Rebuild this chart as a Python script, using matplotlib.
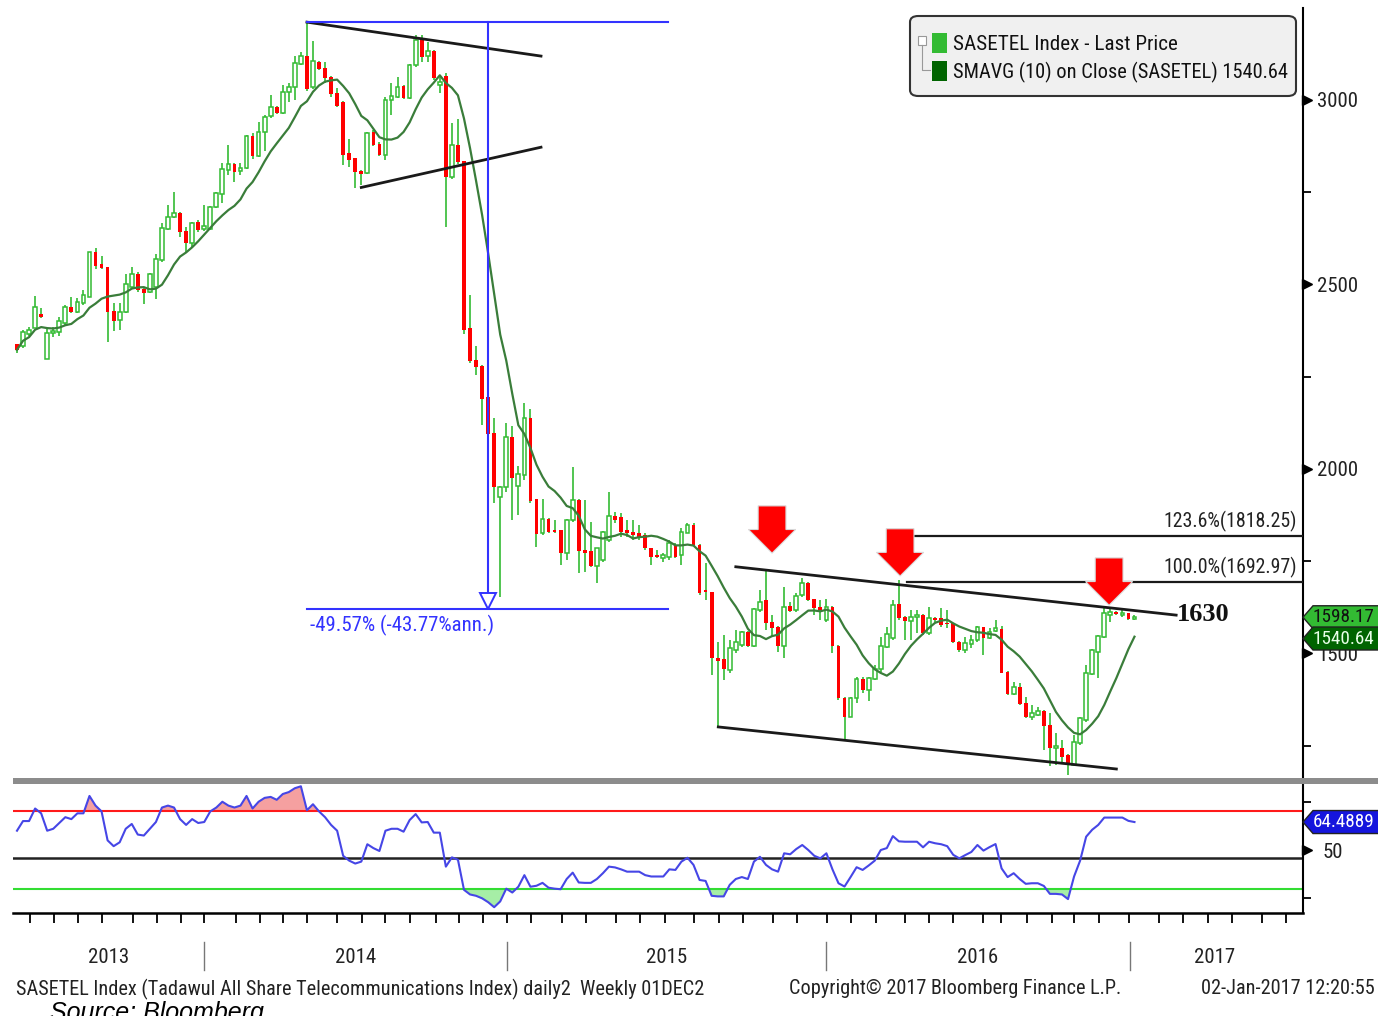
import os
import numpy as np
import pandas as pd
import matplotlib
matplotlib.use('Agg')
from matplotlib import pyplot as plt
from matplotlib import font_manager as fm
from matplotlib.patches import Polygon, FancyBboxPatch, Rectangle
from matplotlib.lines import Line2D

# weekly bars of SASETEL (bar 0 = first visible week)
opn = [2338, 2332, 2365, 2383, 2420, 2297, 2368, 2372, 2397, 2438,
       2426, 2449, 2467, 2587, 2555, 2548, 2429, 2404, 2426, 2494,
       2528, 2487, 2479, 2494, 2566, 2650, 2682, 2693, 2646, 2612,
       2670, 2650, 2650, 2709, 2744, 2810, 2827, 2808, 2815, 2903,
       2848, 2912, 2957, 2980, 2964, 3021, 3034, 3098, 3119, 3035,
       3104, 3086, 3063, 3018, 2995, 2855, 2842, 2808, 2801, 2912,
       2880, 2851, 3000, 3009, 3038, 3005, 3095, 3164, 3119, 3134,
       3040, 3066, 2791, 2879, 2835, 2381, 2295, 2279, 2194, 2098,
       1924, 1952, 2087, 1955, 1983, 2139, 1919, 1827, 1864, 1835,
       1835, 1773, 1862, 1916, 1780, 1779, 1737, 1753, 1808, 1873,
       1871, 1835, 1830, 1826, 1821, 1785, 1765, 1758, 1762, 1795,
       1767, 1827, 1848, 1794, 1670, 1666, 1489, 1484, 1455, 1510,
       1523, 1559, 1520, 1618, 1645, 1586, 1573, 1519, 1629, 1618,
       1659, 1692, 1647, 1627, 1591, 1627, 1519, 1379, 1329, 1379,
       1430, 1401, 1430, 1457, 1517, 1541, 1634, 1600, 1589, 1598,
       1604, 1555, 1597, 1595, 1582, 1582, 1532, 1509, 1526, 1537,
       1571, 1541, 1562, 1566, 1451, 1390, 1408, 1365, 1329, 1333,
       1345, 1306, 1244, 1243, 1225, 1198, 1257, 1320, 1444, 1505,
       1544, 1605, 1613, 1604, 1609, 1594]
high = [2340, 2377, 2386, 2469, 2435, 2382, 2386, 2413, 2444, 2467,
        2463, 2485, 2587, 2598, 2577, 2548, 2449, 2449, 2528, 2548,
        2535, 2494, 2530, 2582, 2666, 2715, 2750, 2697, 2657, 2670,
        2675, 2715, 2713, 2752, 2830, 2878, 2830, 2828, 2905, 2911,
        2941, 2959, 3014, 2984, 3041, 3045, 3119, 3131, 3212, 3160,
        3106, 3104, 3065, 3032, 2997, 2893, 2844, 2810, 2914, 2919,
        2887, 3009, 3045, 3061, 3041, 3098, 3176, 3176, 3158, 3136,
        3066, 3072, 2939, 2949, 2836, 2471, 2332, 2281, 2196, 2137,
        1955, 2125, 2116, 2007, 2179, 2163, 1920, 1920, 1866, 1862,
        1836, 1864, 2006, 1918, 1916, 1857, 1787, 1832, 1939, 1884,
        1880, 1862, 1862, 1848, 1826, 1787, 1781, 1771, 1808, 1799,
        1839, 1853, 1853, 1796, 1744, 1668, 1532, 1550, 1537, 1564,
        1561, 1561, 1622, 1672, 1726, 1604, 1575, 1681, 1640, 1663,
        1704, 1694, 1649, 1645, 1649, 1629, 1523, 1381, 1383, 1437,
        1437, 1437, 1469, 1545, 1573, 1645, 1699, 1602, 1618, 1618,
        1606, 1627, 1600, 1622, 1618, 1584, 1534, 1546, 1550, 1575,
        1573, 1568, 1591, 1575, 1453, 1424, 1421, 1383, 1360, 1354,
        1347, 1338, 1284, 1266, 1227, 1279, 1329, 1469, 1511, 1549,
        1627, 1622, 1615, 1622, 1611, 1605]
low = [2313, 2329, 2360, 2381, 2408, 2297, 2359, 2360, 2390, 2422,
       2422, 2445, 2467, 2541, 2541, 2345, 2375, 2377, 2422, 2490,
       2481, 2447, 2476, 2460, 2562, 2648, 2679, 2628, 2589, 2598,
       2643, 2645, 2648, 2706, 2720, 2797, 2779, 2797, 2812, 2839,
       2846, 2863, 2950, 2961, 2961, 2995, 3000, 3095, 3025, 3030,
       3081, 3045, 3009, 2980, 2824, 2819, 2761, 2770, 2799, 2874,
       2848, 2837, 2959, 3005, 3003, 3002, 3090, 3104, 3104, 3054,
       3020, 2656, 2786, 2827, 2367, 2288, 2256, 2118, 2090, 1907,
       1654, 1938, 1862, 1875, 1971, 1908, 1789, 1821, 1826, 1826,
       1740, 1753, 1857, 1717, 1722, 1735, 1690, 1749, 1803, 1853,
       1817, 1817, 1808, 1808, 1780, 1740, 1758, 1749, 1753, 1758,
       1740, 1826, 1790, 1658, 1645, 1442, 1297, 1428, 1446, 1501,
       1518, 1517, 1518, 1613, 1564, 1546, 1505, 1487, 1613, 1613,
       1654, 1643, 1604, 1591, 1586, 1501, 1374, 1265, 1327, 1365,
       1392, 1370, 1428, 1451, 1514, 1537, 1590, 1537, 1537, 1555,
       1550, 1550, 1586, 1573, 1568, 1529, 1505, 1500, 1514, 1532,
       1496, 1538, 1559, 1446, 1388, 1388, 1360, 1324, 1320, 1331,
       1238, 1195, 1198, 1202, 1171, 1196, 1252, 1315, 1442, 1433,
       1541, 1586, 1605, 1600, 1591, 1592]
close = [2323, 2372, 2377, 2438, 2413, 2368, 2374, 2401, 2440, 2426,
         2452, 2471, 2587, 2550, 2546, 2426, 2402, 2426, 2500, 2528,
         2485, 2478, 2528, 2568, 2654, 2682, 2693, 2641, 2612, 2668,
         2648, 2659, 2711, 2747, 2812, 2827, 2806, 2817, 2903, 2848,
         2912, 2955, 2980, 2964, 3023, 3036, 3099, 3119, 3029, 3105,
         3083, 3059, 3015, 2984, 2851, 2837, 2806, 2799, 2911, 2878,
         2851, 3000, 3011, 3036, 3005, 3095, 3163, 3117, 3134, 3059,
         3050, 2791, 2879, 2833, 2378, 2293, 2277, 2191, 2095, 1952,
         1952, 2087, 1976, 1986, 2139, 1914, 1825, 1864, 1830, 1830,
         1773, 1862, 1916, 1779, 1773, 1737, 1785, 1830, 1873, 1862,
         1830, 1826, 1821, 1817, 1785, 1762, 1761, 1767, 1799, 1762,
         1830, 1848, 1794, 1663, 1666, 1487, 1480, 1457, 1514, 1532,
         1559, 1519, 1620, 1640, 1582, 1568, 1519, 1627, 1616, 1656,
         1690, 1645, 1622, 1618, 1627, 1519, 1379, 1329, 1379, 1430,
         1401, 1433, 1457, 1519, 1553, 1631, 1595, 1589, 1600, 1604,
         1555, 1595, 1591, 1577, 1579, 1532, 1509, 1528, 1537, 1573,
         1541, 1559, 1568, 1448, 1390, 1408, 1363, 1329, 1338, 1345,
         1304, 1243, 1248, 1220, 1198, 1261, 1324, 1446, 1509, 1547,
         1609, 1613, 1607, 1609, 1593, 1598.17]
rsi = [60, 65, 65, 71.5, 69, 60, 61, 64, 67, 66,
       69, 69, 78, 73, 70, 55, 52, 54, 61, 63.5,
       58, 57.5, 61, 64.5, 72, 73, 72, 66, 63, 66,
       64, 64.5, 70, 72, 75, 73, 72, 73, 78, 71.5,
       75, 77, 77.5, 76, 79, 80, 82, 83, 70.6, 73.7,
       70, 67, 63, 60, 47, 44.5, 43, 44, 53, 51,
       49.5, 60, 61, 61, 59.5, 65.5, 68.6, 64.3, 64.5, 59,
       59, 41.4, 46.2, 45, 29.4, 27, 26.3, 25, 23, 20.4,
       23.4, 30, 28, 31, 37, 31, 31.5, 33, 30.5, 30,
       29.7, 35, 38.3, 33.2, 33, 33, 35, 38, 41.4, 41,
       40, 38.8, 38.8, 38.8, 37, 36.3, 36.3, 36.3, 40, 39.7,
       44, 46, 42.3, 34.5, 34, 26.3, 26, 26, 32, 35,
       36, 35, 44, 46.5, 42.3, 40, 38.8, 48.3, 47.8, 50.5,
       52.6, 50, 47, 45.7, 48.3, 40, 32.8, 31.1, 36, 41.1,
       39.7, 42, 44.5, 50, 51, 57.2, 54.5, 54.3, 54.3, 54.3,
       51.4, 54.3, 53.5, 53, 52, 47.5, 45.7, 47.4, 49, 52.6,
       49.7, 51.5, 53.1, 40.5, 36, 38, 35, 32.5, 32.8, 32.8,
       31.4, 27.3, 27.3, 27, 24.6, 36.3, 44.5, 56.9, 60.5, 63,
       66.8, 66.8, 66.8, 66.8, 65.1, 64.4889]

last_price = 1598.17
sma_last = 1540.64
rsi_last = 64.4889

price_ticks = [3000, 2500, 2000, 1500]
price_minor = [2750, 2250, 1750, 1250]
fib_levels = [1818.25, 1692.97]
fib_labels = ['123.6%(1818.25)', '100.0%(1692.97)']
years = ['2013', '2014', '2015', '2016', '2017']
year_pos = [15.2, 56, 107.5, 159, 198.3]
year_breaks = [31.0, 81.1, 133.9, 184.3]
month_ticks = [2.1, 6.2, 10.1, 14.1, 19.2, 23.2, 27.1, 31.0, 36.2, 40.2,
               44.1, 48.0, 53.0, 57.1, 61.0, 65.0, 69.3, 73.2, 77.2, 81.1,
               85.1, 90.2, 94.2, 99.2, 103.2, 107.3, 112.1, 116.2, 120.2, 125.1,
               129.1, 134.1, 138.0, 142.2, 147.0, 151.0, 155.0, 159.9, 162.9, 167.2,
               171.4, 175.0, 179.1, 184.1, 189.0, 193.0, 197.1, 201.2, 206.1, 210.1]

# analyst drawings (bar index, price)
tri_upper = [(48.0, 3211), (86.75, 3119)]
tri_lower = [(57.0, 2763), (86.75, 2872)]
chan_upper = [(119.0, 1735), (191.9, 1604)]
chan_lower = [(116.1, 1301), (182.0, 1187)]
fib_start = [148.2, 147.3]
meas_x0, meas_x1, meas_xv = 48.0, 107.8, 78.0
meas_top, meas_bot = 3211, 1620
arrows = [(125.0, 1772), (146.2, 1710), (180.8, 1631)]


# Bloomberg uses a condensed face - take one if the box has it
def find_narrow():
    order = ['liberation sans narrow', 'roboto condensed', 'noto sans', 'open sans',
             'dejavu sans', 'lato', 'inter']
    best, best_rank = None, 99
    for f in fm.fontManager.ttflist:
        name = f.name.lower()
        base = os.path.basename(f.fname).lower()
        if 'cjk' in name or 'mono' in name or 'serif' in base.replace('sans', ''):
            continue
        if f.style != 'normal':
            continue
        w = f.weight if isinstance(f.weight, int) else fm.weight_dict.get(str(f.weight), 400)
        if w != 400:
            continue
        st = str(f.stretch)
        narrow = ('narrow' in name or 'narrow' in base or 'condensed' in name
                  or ('condensed' in base and 'semi' not in base and 'extra' not in base)
                  or st in ('condensed', '75'))
        if not narrow:
            continue
        rank = 50
        for i, o in enumerate(order):
            if name.startswith(o):
                rank = i
                break
        if rank < best_rank:
            best, best_rank = f, rank
    return best


nf = find_narrow()
if nf is not None:
    NARROW_FILE = nf.fname
    SC = 0.88 if 'dejavu' in nf.name.lower() else 1.0
else:
    NARROW_FILE = None
    SC = 0.84


def NF(size, **kw):
    if NARROW_FILE:
        return fm.FontProperties(fname=NARROW_FILE, size=size * SC, **kw)
    return fm.FontProperties(family=['Liberation Sans', 'DejaVu Sans'], size=size * SC, **kw)


W, H = 1378, 1016
GREEN = '#33bb33'
DKGREEN = '#006400'
RED = '#ff0000'
BLUE = '#3333ff'
INK = '#222222'

fig = plt.figure(figsize=(W / 100, H / 100), dpi=100)


def fx(p):
    return p / W


def fy(p):
    return 1 - p / H


XL = (-0.66, 212.9)

# ---- price panel
ax = fig.add_axes([fx(13), fy(778), 1290 / W, 770 / H])
x = np.arange(len(close))
o = np.array(opn, float)
c = np.array(close, float)
hi = np.array(high, float)
lo = np.array(low, float)
up = c >= o

ax.vlines(x, lo, hi, color=GREEN, lw=1.2, zorder=2)
ax.bar(x[up], np.maximum(c[up] - o[up], 4), bottom=o[up], width=0.62,
       facecolor='white', edgecolor=GREEN, lw=1.1, zorder=3)
ax.bar(x[~up], np.maximum(o[~up] - c[~up], 5), bottom=c[~up], width=0.62,
       color=RED, lw=0, zorder=3)
sma = pd.Series(c).rolling(10, min_periods=1).mean()
ax.plot(x, sma, color='#3a7d3a', lw=1.6, zorder=4)

for seg in [tri_upper, tri_lower, chan_upper, chan_lower]:
    ax.plot([seg[0][0], seg[1][0]], [seg[0][1], seg[1][1]], color='#1a1a1a', lw=2, zorder=5)
for lev, xs in zip(fib_levels, fib_start):
    ax.plot([xs, XL[1]], [lev, lev], color='#1a1a1a', lw=1.6, zorder=5)
ax.text(211.9, 1859, fib_labels[0], ha='right', va='center', fontproperties=NF(14.3), color=INK)
ax.text(211.9, 1734, fib_labels[1], ha='right', va='center', fontproperties=NF(14.3), color=INK)
ax.text(192.1, 1607, '1630', ha='left', va='center', fontsize=19, fontweight='bold',
        family=['Liberation Serif', 'DejaVu Serif'], color='#111111')

# price change measure
ax.plot([meas_x0, meas_x1], [meas_top, meas_top], color=BLUE, lw=1.5, zorder=5)
ax.plot([meas_x0, meas_x1], [meas_bot, meas_bot], color=BLUE, lw=1.5, zorder=5)
ax.plot([meas_xv, meas_xv], [meas_top, meas_bot + 40], color=BLUE, lw=1.5, zorder=5)
ax.plot([meas_xv], [meas_bot + 22], marker='v', ms=12, mfc='white', mec=BLUE, mew=1.4, zorder=6)
ax.text(meas_x0 + 0.5, 1577, '-49.57% (-43.77%ann.)', color=BLUE, fontproperties=NF(15),
        ha='left', va='center')

# red arrows
for xc, tip in arrows:
    pts = [(xc - 2.3, tip + 128), (xc + 2.3, tip + 128), (xc + 2.3, tip + 64),
           (xc + 3.9, tip + 64), (xc, tip), (xc - 3.9, tip + 64), (xc - 2.3, tip + 64)]
    ax.add_patch(Polygon(pts, closed=True, fc=RED, ec='#d8d8d8', lw=0.8, zorder=7))

ax.set_xlim(*XL)
ax.set_ylim(1162.6, 3249.3)
for s in ['top', 'left', 'bottom']:
    ax.spines[s].set_visible(False)
ax.spines['right'].set_linewidth(1.5)
ax.set_xticks([])
ax.yaxis.tick_right()
ax.set_yticks(price_ticks)
ax.set_yticklabels([str(t) for t in price_ticks], fontproperties=NF(15), color=INK)
ax.set_yticks(price_minor, minor=True)
ax.tick_params(axis='y', which='major', length=0, pad=10)
ax.tick_params(axis='y', which='minor', length=6, width=1.3)
ax.plot([1.003] * len(price_ticks), price_ticks, ls='none', marker='>', ms=7, color='black',
        transform=ax.get_yaxis_transform(), clip_on=False)

# ---- RSI panel
ax2 = fig.add_axes([fx(13), fy(913), 1290 / W, 130 / H])
r = np.array(rsi)
ax2.fill_between(x, r, 70, where=r > 70, interpolate=True, color='#f5a0a0', lw=0)
ax2.fill_between(x, r, 30, where=r < 30, interpolate=True, color='#a6eea6', lw=0)
ax2.axhline(70, color='#ff1a1a', lw=1.5)
ax2.axhline(46, color='#222222', lw=1.8)
ax2.axhline(30, color='#33dd33', lw=1.5)
ax2.plot(x, r, color='#4646e6', lw=1.5)
ax2.set_xlim(*XL)
ax2.set_ylim(17.4, 84.7)
for s in ['top', 'left']:
    ax2.spines[s].set_visible(False)
ax2.spines['right'].set_linewidth(1.5)
ax2.spines['bottom'].set_linewidth(1.8)
ax2.set_xticks(month_ticks)
ax2.tick_params(axis='x', direction='out', length=7, width=1.3, labelbottom=False)
ax2.yaxis.tick_right()
ax2.set_yticks([25, 50, 75])
ax2.set_yticklabels(['', '50', ''], fontproperties=NF(15), color=INK)
ax2.tick_params(axis='y', length=6, width=1.3, pad=8)
ax2.plot([1.003], [50], ls='none', marker='>', ms=7, color='black',
         transform=ax2.get_yaxis_transform(), clip_on=False)

tr = ax2.get_xaxis_transform()
for b in year_breaks:
    ax2.plot([b, b], [-0.22, -0.44], color='#777777', lw=1, transform=tr, clip_on=False)
for yr, p in zip(years, year_pos):
    ax2.text(p, -0.34, yr, transform=tr, ha='center', va='center', fontproperties=NF(15),
             color=INK)

# gray separator between panels
fig.add_artist(Rectangle((fx(13), fy(784)), (1378 - 13) / W, 6 / H, transform=fig.transFigure,
                         color='#8c8c8c', lw=0))


# value tags on the right axis
def tag(axis, val, text, fc, tc):
    yd = axis.transData.transform((0, val))[1] / fig.bbox.height
    hh = 11.5 / H
    pts = [(fx(1303), yd), (fx(1313), yd + hh), (fx(1380), yd + hh),
           (fx(1380), yd - hh), (fx(1313), yd - hh)]
    fig.add_artist(Polygon(pts, closed=True, transform=fig.transFigure, fc=fc,
                           ec='#222222', lw=1))
    fig.text(fx(1313), yd, text, ha='left', va='center', fontproperties=NF(13.8), color=tc,
             zorder=5)


tag(ax, last_price, '%.2f' % last_price, GREEN, '#111111')
tag(ax, sma_last, '%.2f' % sma_last, DKGREEN, '#e8ffe8')
tag(ax2, rsi_last, '%.4f' % rsi_last, '#1515dd', 'white')

# legend box
fig.add_artist(FancyBboxPatch((fx(910), fy(96)), 386 / W, 80 / H,
                              boxstyle='round,pad=0,rounding_size=0.006',
                              transform=fig.transFigure, fc='#f0f0f0', ec='#333333', lw=1.5))
fig.add_artist(Rectangle((fx(918), fy(45)), 8 / W, 9 / H, transform=fig.transFigure,
                         fc='white', ec='#999999', lw=0.8))
fig.add_artist(Line2D([fx(922), fx(922), fx(930)], [fy(45), fy(70), fy(70)],
                      transform=fig.transFigure, color='#999999', lw=0.8))
fig.add_artist(Rectangle((fx(932), fy(53)), 15 / W, 20 / H, transform=fig.transFigure,
                         fc=GREEN, lw=0))
fig.add_artist(Rectangle((fx(932), fy(81)), 15 / W, 20 / H, transform=fig.transFigure,
                         fc=DKGREEN, lw=0))
fig.text(fx(953), fy(44), 'SASETEL Index - Last Price', fontproperties=NF(15.2),
         va='center', color='#111111')
fig.text(fx(953), fy(72), 'SMAVG (10) on Close (SASETEL) %.2f' % sma_last,
         fontproperties=NF(14.7), va='center', color='#111111')

# footer
fig.text(fx(16), fy(989), 'SASETEL Index (Tadawul All Share Telecommunications Index) daily2  Weekly 01DEC2',
         fontproperties=NF(14.6), va='center', color=INK)
fig.text(fx(789), fy(989), 'Copyright\u00a9 2017 Bloomberg Finance L.P.', fontproperties=NF(14.6),
         va='center', color=INK)
fig.text(fx(1375), fy(989), '02-Jan-2017 12:20:55', fontproperties=NF(14.6), va='center',
         ha='right', color=INK)
fig.text(fx(50), fy(1001), 'Source: Bloomberg', fontsize=18, style='italic', va='top',
         family=['Liberation Sans', 'DejaVu Sans'], color='black')

fig.savefig('out.png', dpi=100)
